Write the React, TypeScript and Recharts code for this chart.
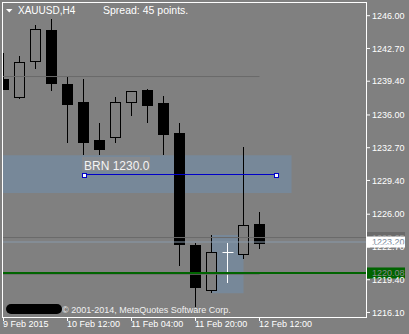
import React from 'react';
import { ComposedChart, Bar, XAxis, YAxis, ReferenceArea, ReferenceLine, ReferenceDot } from 'recharts';

// ---- data ----
const candleIndex = [0, 1, 2, 3, 4, 5, 6, 7, 8, 9, 10, 11, 12, 13, 14, 15, 16];
const opens = [1239.62, 1237.84, 1241.41, 1244.53, 1239.12, 1237.31, 1233.48, 1233.81, 1237.34, 1238.48, 1237.21, 1234.18, 1222.90, 1218.37, 1222.16, 1221.96, 1225.01];
const highs = [1242.21, 1241.94, 1245.06, 1245.67, 1239.79, 1239.62, 1235.19, 1237.78, 1238.40, 1238.58, 1237.91, 1235.19, 1223.07, 1223.91, 1223.07, 1232.74, 1226.19];
const lows = [1238.51, 1237.58, 1240.66, 1238.41, 1233.21, 1231.97, 1231.97, 1233.21, 1235.93, 1235.16, 1231.97, 1220.81, 1216.62, 1218.03, 1219.04, 1221.46, 1222.50];
const closes = [1238.64, 1241.31, 1244.63, 1239.19, 1237.13, 1233.31, 1232.60, 1237.28, 1238.38, 1237.03, 1234.05, 1222.95, 1218.70, 1222.16, 1222.16, 1224.91, 1223.10];

const xTickIndex = [0, 4, 8, 12, 16];
const xTickLabels = ['9 Feb 2015', '10 Feb 12:00', '11 Feb 04:00', '11 Feb 20:00', '12 Feb 12:00'];
const yTicks = [1246.0, 1242.7, 1239.4, 1236.0, 1232.7, 1229.4, 1226.0, 1222.7, 1219.4, 1216.1];

const xDomain = [-0.03125, 22.65625];
const yDomain = [1215.645, 1247.38];

const bidPrice = 1223.2;
const askPrice = 1223.65;
const greenLevel = 1220.08;
const brnLevel = 1230.0;
const brnLineRange = [5, 17];
const brnZoneX = [-0.03125, 18];
const brnZoneY = [1228.15, 1231.95];
const box2X = [13, 15];
const box2Y = [1218.03, 1223.91];
const upperLevel = 1239.87;
const lowerLevel = 1219.95;
const levelLineEnd = 16;

const data = candleIndex.map((i, k) => ({
  i,
  open: opens[k],
  high: highs[k],
  low: lows[k],
  close: closes[k],
}));

const FONT = '"Liberation Sans", Arial, sans-serif';

const Candle = (props: any) => {
  const { x, y, width, height, payload } = props;
  if (x == null || y == null || !payload) return null;
  const { open, close, high, low } = payload;
  const cx = Math.round(x + width / 2 - 0.5) + 0.5;
  const top = Math.min(y, y + height);
  const h = Math.abs(height);
  const toY = (v: number) => (high === low ? top : top + ((high - v) / (high - low)) * h);
  const yH = Math.round(toY(high));
  const yL = Math.round(toY(low));
  const yO = Math.round(toY(open)) + 0.5;
  const yC = Math.round(toY(close)) + 0.5;
  if (open === close) {
    return (
      <g>
        <line x1={cx} x2={cx} y1={yH} y2={yL} stroke="#ffffff" strokeWidth={1} />
        <line x1={cx - 5} x2={cx + 6} y1={yO} y2={yO} stroke="#ffffff" strokeWidth={1} />
      </g>
    );
  }
  const bull = close > open;
  const bTop = Math.min(yO, yC);
  const bH = Math.abs(yC - yO);
  return (
    <g>
      <line x1={cx} x2={cx} y1={yH} y2={yL} stroke="#000000" strokeWidth={1} />
      <rect x={cx - 5} y={bTop} width={10} height={bH} fill={bull ? '#808080' : '#000000'} stroke="#000000" strokeWidth={1} />
    </g>
  );
};

const XTick = (props: any) => {
  const { x, y, payload } = props;
  const idx = xTickIndex.indexOf(payload.value);
  return (
    <text x={x - 0.5} y={y + 4} textAnchor="start" fontSize={9} fill="#ffffff" fontFamily={FONT}>
      {idx >= 0 ? xTickLabels[idx] : ''}
    </text>
  );
};

const YTick = (props: any) => {
  const { x, y, payload } = props;
  return (
    <text x={x} y={y} dy="0.35em" textAnchor="start" fontSize={9} fill="#ffffff" fontFamily={FONT}>
      {Number(payload.value).toFixed(2)}
    </text>
  );
};

const priceBox = (value: number, fill: string, color: string) => (p: any) => {
  const vb = p.viewBox || {};
  const bx = vb.x + vb.width + 1;
  const by = vb.y;
  return (
    <g>
      <rect x={bx} y={by - 5.5} width={38} height={11} fill={fill} />
      <text x={bx + 5} y={by} dy="0.35em" fontSize={9} fill={color} fontFamily={FONT}>
        {value.toFixed(2)}
      </text>
    </g>
  );
};

const Handle = (p: any) => (
  <rect x={Math.round(p.cx) - 2 + 0.5} y={Math.round(p.cy) - 2 + 0.5} width={4} height={4} fill="#ffffff" stroke="#0000c8" strokeWidth={1} />
);

const BrnLabel = (p: any) => {
  const cx = Math.round(p.cx);
  const cy = Math.round(p.cy);
  return (
    <g>
      <rect x={cx - 2} y={cy - 18} width={68} height={14} fill="#868a8f" />
      <text x={cx} y={cy - 5} fontSize={12} fill="#f4f4f4" fontFamily={FONT}>
        {'BRN ' + brnLevel.toFixed(1)}
      </text>
      <rect x={cx - 2 + 0.5} y={cy - 2 + 0.5} width={4} height={4} fill="#ffffff" stroke="#0000c8" strokeWidth={1} />
    </g>
  );
};

export default function App() {
  return (
    <div style={{ position: 'absolute', left: 0, top: 0, width: 409, height: 334, background: '#808080', overflow: 'hidden' }}>
      <ComposedChart width={409} height={334} data={data} margin={{ top: 2, right: 0, bottom: 0, left: 3 }}>
        <XAxis
          dataKey="i"
          type="number"
          domain={xDomain}
          ticks={xTickIndex}
          interval={0}
          allowDataOverflow
          height={17}
          tickSize={4}
          tickLine={{ stroke: '#ffffff' }}
          axisLine={false}
          tick={<XTick />}
        />
        <YAxis
          orientation="right"
          type="number"
          domain={yDomain}
          ticks={yTicks}
          interval={0}
          allowDataOverflow
          width={43}
          tickSize={4}
          tickMargin={2}
          tickLine={{ stroke: '#ffffff' }}
          axisLine={false}
          tick={<YTick />}
        />
        <ReferenceArea x1={brnZoneX[0]} x2={brnZoneX[1]} y1={brnZoneY[0]} y2={brnZoneY[1]} fill="#778899" fillOpacity={1} stroke="none" />
        <ReferenceArea x1={box2X[0]} x2={box2X[1]} y1={box2Y[0]} y2={box2Y[1]} fill="#778899" fillOpacity={1} stroke="none" />
        <ReferenceLine segment={[{ x: xDomain[0], y: upperLevel }, { x: levelLineEnd, y: upperLevel }]} stroke="#6a6a6a" strokeWidth={1} />
        <ReferenceLine segment={[{ x: xDomain[0], y: lowerLevel }, { x: levelLineEnd, y: lowerLevel }]} stroke="#6a6a6a" strokeWidth={1} />
        <ReferenceLine y={askPrice} stroke="#6a6a6a" strokeWidth={1} label={priceBox(askPrice, '#6a6a6a', '#9a9a9a')} />
        <ReferenceLine y={bidPrice} stroke="#8899aa" strokeWidth={1} label={priceBox(bidPrice, '#ffffff', '#778899')} />
        <ReferenceLine y={greenLevel} stroke="#006400" strokeWidth={2} label={priceBox(greenLevel, '#006400', '#8a8a8a')} />
        <Bar dataKey={(d: any) => [d.low, d.high]} barSize={12} isAnimationActive={false} shape={(p: any) => <Candle {...p} />} />
        <ReferenceLine segment={[{ x: brnLineRange[0], y: brnLevel }, { x: brnLineRange[1], y: brnLevel }]} stroke="#0000c8" strokeWidth={1} />
        <ReferenceDot x={brnLineRange[0]} y={brnLevel} shape={(p: any) => <BrnLabel {...p} />} />
        <ReferenceDot x={brnLineRange[1]} y={brnLevel} shape={(p: any) => <Handle {...p} />} />
      </ComposedChart>
      <svg width={409} height={334} style={{ position: 'absolute', left: 0, top: 0, pointerEvents: 'none' }}>
        <rect x={2.5} y={2.5} width={364} height={315} fill="none" stroke="#ffffff" strokeWidth={1} />
        <path d="M6 9 L12.5 9 L9.25 12.5 Z" fill="#ffffff" />
        <text x={18} y={14} fontSize={10} fill="#ffffff" fontFamily={FONT}>XAUUSD,H4</text>
        <text x={103} y={14} fontSize={10.5} fill="#ffffff" fontFamily={FONT}>Spread: 45 points.</text>
        <text x={62} y={312.5} fontSize={9} fill="#f0f0f0" fontFamily={FONT}>© 2001-2014, MetaQuotes Software Corp.</text>
        <rect x={6} y={304} width={56} height={10} rx={5} fill="#000000" />
      </svg>
    </div>
  );
}
